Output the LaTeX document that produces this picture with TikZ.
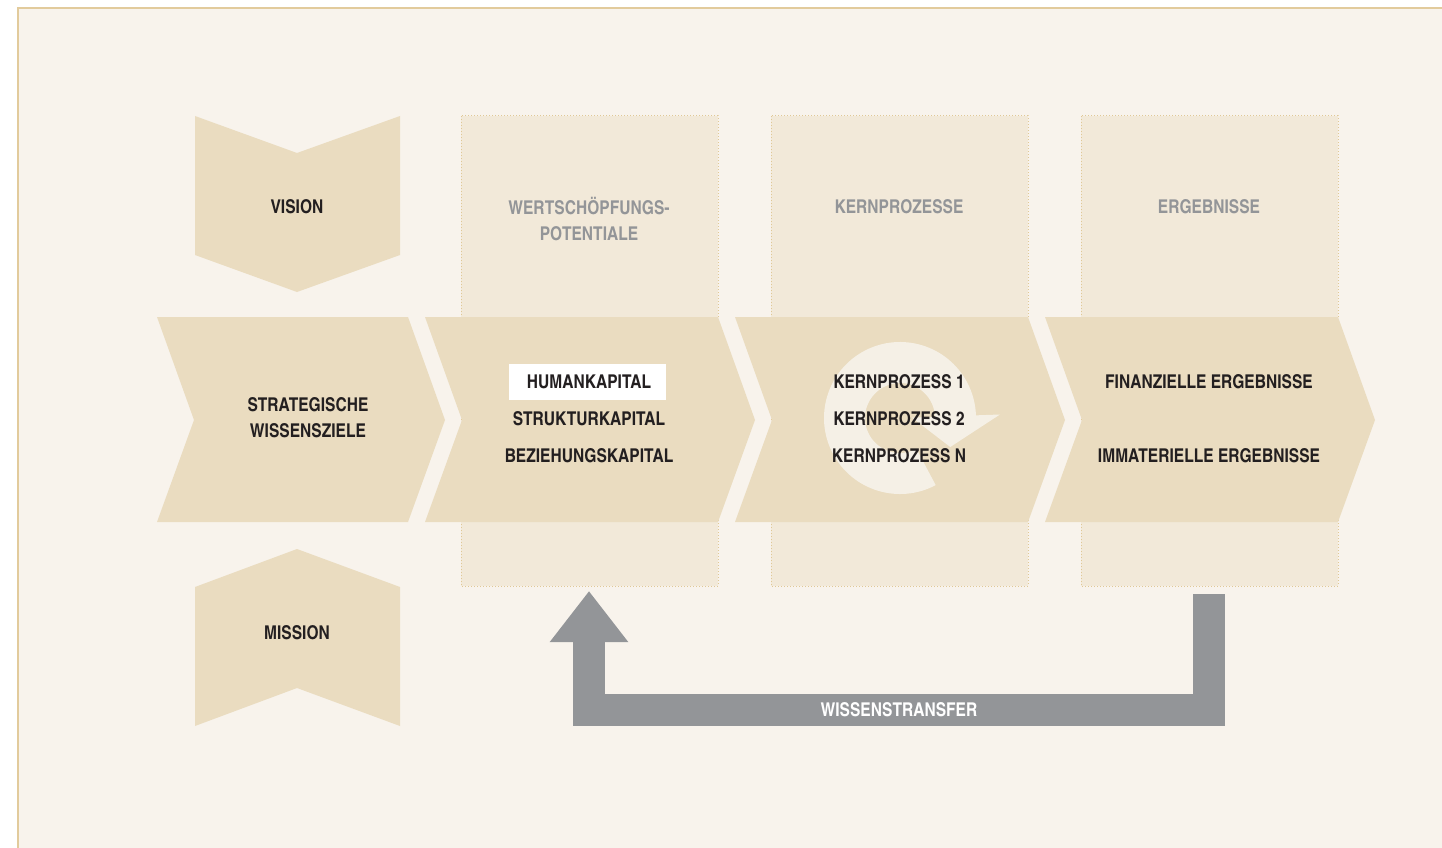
\documentclass[tikz,border=0pt]{standalone}
\usepackage{fontspec}
\setmainfont{TeX Gyre Heros Cn}
\usepackage{xcolor}
\usepackage{tikz}
\usetikzlibrary{arrows.meta}

\definecolor{paper}{HTML}{F8F3EC}
\definecolor{rim}{HTML}{E2CB9C}
\definecolor{chevron}{HTML}{EADCC0}
\definecolor{column}{HTML}{F2E9D9}
\definecolor{dots}{HTML}{E0C896}
\definecolor{ringcol}{HTML}{F5F0E6}
\definecolor{ink}{HTML}{231F20}
\definecolor{greytxt}{HTML}{939598}

\tikzset{
  txt/.style={font=\bfseries\fontsize{19}{26}\selectfont, text=ink, align=center, inner sep=0pt},
  head/.style={txt, text=greytxt},
  colbox/.style={fill=column, draw=dots, dotted, line width=1pt},
  transfer/.style={draw=greytxt, line width=32pt, line join=miter,
    -{Triangle[width=75pt, length=51pt]}}
}

\begin{document}
\begin{tikzpicture}[x=1pt,y=-1pt]
\useasboundingbox[fill=white] (0,0) rectangle (1442,848);
% paper with rim on two sides
\fill[paper] (18,8) rectangle (1442,848);
\draw[rim, line width=2.5pt] (18,848) -- (18,8) -- (1442,8);

% three columns behind the chevrons
\foreach \x in {461,771,1081}
  \draw[colbox] (\x,116) rectangle ++(257,470);

% vision and mission
\fill[chevron] (195,116) -- (297,153) -- (400,116) -- (400,255) -- (297,292) -- (195,255) -- cycle;
\fill[chevron] (297,549) -- (400,587) -- (400,726) -- (297,688) -- (195,726) -- (195,587) -- cycle;

% chevron row
\fill[chevron] (157,317) -- (408,317) -- (445,420) -- (408,522) -- (157,522) -- (194,420) -- cycle;
\foreach \x in {425,735,1045}
  \fill[chevron] (\x,317) -- ++(293,0) -- ++(37,103) -- ++(-37,102) -- ++(-293,0) -- ++(37,-102) -- cycle;

% round arrow behind the core processes
\begin{scope}[shift={(900,418)}]
\fill[ringcol] (62:76) arc[start angle=62, end angle=358, radius=76]
  -- (358:100) -- (30:58) -- (358:12) -- (358:35)
  arc[start angle=358, end angle=62, radius=35] -- cycle;
\end{scope}

\node[txt] (vision) at (297,207) {VISION};
\node[txt] (mission) at (297,633) {MISSION};
\node[txt] (ziele) at (308,418) {STRATEGISCHE\\WISSENSZIELE};

\node[head] (potentiale) at (589,219.5) {WERTSCHÖPFUNGS-\\POTENTIALE};
\node[head] (prozesse) at (899,207) {KERNPROZESSE};
\node[head] (ergebnisse) at (1209,207) {ERGEBNISSE};

\fill[white] (509,364) rectangle (666,400);
\node[txt] (human) at (589,382) {HUMANKAPITAL};
\node[txt] (struktur) at (589,419) {STRUKTURKAPITAL};
\node[txt] (beziehung) at (589,456) {BEZIEHUNGSKAPITAL};

\node[txt] (kp1) at (899,382) {KERNPROZESS 1};
\node[txt] (kp2) at (899,419) {KERNPROZESS 2};
\node[txt] (kpn) at (899,456) {KERNPROZESS N};

\node[txt] (finanz) at (1209,382) {FINANZIELLE ERGEBNISSE};
\node[txt] (immat) at (1209,456) {IMMATERIELLE ERGEBNISSE};

% knowledge transfer back to the potentials
\coordinate (from) at (1209,594);
\coordinate (to) at (589,591);
\draw[transfer] (from) -- (1209,710) -- (589,710) -- (to);
\node[txt, text=white] (wissen) at (899,710) {WISSENSTRANSFER};
\end{tikzpicture}
\end{document}
